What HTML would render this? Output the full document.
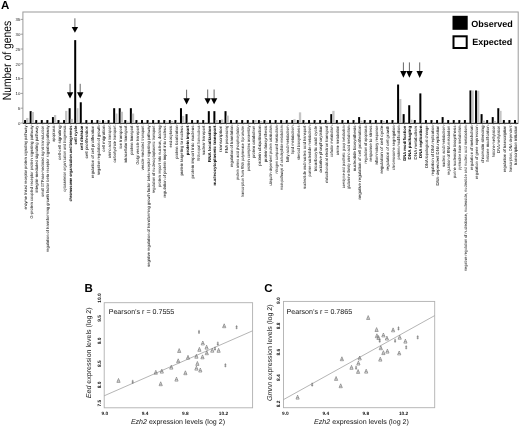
<!DOCTYPE html>
<html><head><meta charset="utf-8"><title>Figure</title>
<style>
html,body{margin:0;padding:0;background:#fff;}
body{width:520px;height:427px;overflow:hidden;}
svg{display:block;font-family:"Liberation Sans",sans-serif;filter:grayscale(1);text-rendering:geometricPrecision;}
</style></head>
<body>
<svg width="520" height="427" viewBox="0 0 520 427">
<rect width="520" height="427" fill="#fff"/>
<g id="chartA">
<rect x="22.9" y="12" width="495.3" height="111" fill="none" stroke="#9a9a9a" stroke-width="1"/>
<line x1="20.6" y1="123" x2="22.9" y2="123" stroke="#888" stroke-width="0.8"/>
<text x="20.3" y="124.7" font-size="4.3" text-anchor="end" fill="#222">0</text>
<line x1="20.6" y1="108.2" x2="22.9" y2="108.2" stroke="#888" stroke-width="0.8"/>
<text x="20.3" y="109.9" font-size="4.3" text-anchor="end" fill="#222">5</text>
<line x1="20.6" y1="93.4" x2="22.9" y2="93.4" stroke="#888" stroke-width="0.8"/>
<text x="20.3" y="95.1" font-size="4.3" text-anchor="end" fill="#222">10</text>
<line x1="20.6" y1="78.6" x2="22.9" y2="78.6" stroke="#888" stroke-width="0.8"/>
<text x="20.3" y="80.3" font-size="4.3" text-anchor="end" fill="#222">15</text>
<line x1="20.6" y1="63.8" x2="22.9" y2="63.8" stroke="#888" stroke-width="0.8"/>
<text x="20.3" y="65.5" font-size="4.3" text-anchor="end" fill="#222">20</text>
<line x1="20.6" y1="49" x2="22.9" y2="49" stroke="#888" stroke-width="0.8"/>
<text x="20.3" y="50.7" font-size="4.3" text-anchor="end" fill="#222">25</text>
<line x1="20.6" y1="34.2" x2="22.9" y2="34.2" stroke="#888" stroke-width="0.8"/>
<text x="20.3" y="35.9" font-size="4.3" text-anchor="end" fill="#222">30</text>
<line x1="20.6" y1="19.4" x2="22.9" y2="19.4" stroke="#888" stroke-width="0.8"/>
<text x="20.3" y="21.1" font-size="4.3" text-anchor="end" fill="#222">35</text>
<rect x="24.1" y="120.04" width="2.0" height="2.96" fill="#000"/>
<rect x="26.1" y="117.97" width="2.3" height="5.03" fill="#c4c4c4"/>
<rect x="29.67" y="111.16" width="2.0" height="11.84" fill="#000"/>
<rect x="31.67" y="112.05" width="2.3" height="10.95" fill="#c4c4c4"/>
<rect x="35.23" y="120.04" width="2.0" height="2.96" fill="#000"/>
<rect x="37.23" y="122.11" width="2.3" height="0.89" fill="#c4c4c4"/>
<rect x="40.8" y="120.04" width="2.0" height="2.96" fill="#000"/>
<rect x="42.8" y="122.41" width="2.3" height="0.59" fill="#c4c4c4"/>
<rect x="46.37" y="120.04" width="2.0" height="2.96" fill="#000"/>
<rect x="48.37" y="122.41" width="2.3" height="0.59" fill="#c4c4c4"/>
<rect x="51.94" y="117.08" width="2.0" height="5.92" fill="#000"/>
<rect x="53.94" y="115.01" width="2.3" height="7.99" fill="#c4c4c4"/>
<rect x="57.5" y="120.04" width="2.0" height="2.96" fill="#000"/>
<rect x="59.5" y="122.11" width="2.3" height="0.89" fill="#c4c4c4"/>
<rect x="63.07" y="120.04" width="2.0" height="2.96" fill="#000"/>
<rect x="65.07" y="110.86" width="2.3" height="12.14" fill="#c4c4c4"/>
<rect x="68.64" y="108.2" width="2.0" height="14.8" fill="#000"/>
<rect x="70.64" y="118.86" width="2.3" height="4.14" fill="#c4c4c4"/>
<rect x="74.2" y="40.12" width="2.0" height="82.88" fill="#000"/>
<rect x="76.2" y="108.2" width="2.3" height="14.8" fill="#c4c4c4"/>
<rect x="79.77" y="102.28" width="2.0" height="20.72" fill="#000"/>
<rect x="81.77" y="122.11" width="2.3" height="0.89" fill="#c4c4c4"/>
<rect x="85.34" y="120.04" width="2.0" height="2.96" fill="#000"/>
<rect x="87.34" y="122.41" width="2.3" height="0.59" fill="#c4c4c4"/>
<rect x="90.9" y="120.04" width="2.0" height="2.96" fill="#000"/>
<rect x="92.9" y="122.41" width="2.3" height="0.59" fill="#c4c4c4"/>
<rect x="96.47" y="120.04" width="2.0" height="2.96" fill="#000"/>
<rect x="98.47" y="120.63" width="2.3" height="2.37" fill="#c4c4c4"/>
<rect x="102.04" y="120.04" width="2.0" height="2.96" fill="#000"/>
<rect x="104.04" y="121.52" width="2.3" height="1.48" fill="#c4c4c4"/>
<rect x="107.6" y="120.04" width="2.0" height="2.96" fill="#000"/>
<rect x="109.6" y="122.11" width="2.3" height="0.89" fill="#c4c4c4"/>
<rect x="113.17" y="108.2" width="2.0" height="14.8" fill="#000"/>
<rect x="115.17" y="113.53" width="2.3" height="9.47" fill="#c4c4c4"/>
<rect x="118.74" y="108.2" width="2.0" height="14.8" fill="#000"/>
<rect x="120.74" y="111.75" width="2.3" height="11.25" fill="#c4c4c4"/>
<rect x="124.31" y="120.04" width="2.0" height="2.96" fill="#000"/>
<rect x="126.31" y="121.52" width="2.3" height="1.48" fill="#c4c4c4"/>
<rect x="129.87" y="108.2" width="2.0" height="14.8" fill="#000"/>
<rect x="131.87" y="113.53" width="2.3" height="9.47" fill="#c4c4c4"/>
<rect x="135.44" y="120.04" width="2.0" height="2.96" fill="#000"/>
<rect x="137.44" y="122.11" width="2.3" height="0.89" fill="#c4c4c4"/>
<rect x="141.01" y="120.04" width="2.0" height="2.96" fill="#000"/>
<rect x="143.01" y="122.11" width="2.3" height="0.89" fill="#c4c4c4"/>
<rect x="146.57" y="120.04" width="2.0" height="2.96" fill="#000"/>
<rect x="148.57" y="122.11" width="2.3" height="0.89" fill="#c4c4c4"/>
<rect x="152.14" y="120.04" width="2.0" height="2.96" fill="#000"/>
<rect x="154.14" y="122.11" width="2.3" height="0.89" fill="#c4c4c4"/>
<rect x="157.71" y="120.04" width="2.0" height="2.96" fill="#000"/>
<rect x="159.71" y="122.11" width="2.3" height="0.89" fill="#c4c4c4"/>
<rect x="163.28" y="120.04" width="2.0" height="2.96" fill="#000"/>
<rect x="165.28" y="121.52" width="2.3" height="1.48" fill="#c4c4c4"/>
<rect x="168.84" y="120.04" width="2.0" height="2.96" fill="#000"/>
<rect x="170.84" y="120.93" width="2.3" height="2.07" fill="#c4c4c4"/>
<rect x="174.41" y="120.04" width="2.0" height="2.96" fill="#000"/>
<rect x="176.41" y="122.11" width="2.3" height="0.89" fill="#c4c4c4"/>
<rect x="179.98" y="108.2" width="2.0" height="14.8" fill="#000"/>
<rect x="181.98" y="115.9" width="2.3" height="7.1" fill="#c4c4c4"/>
<rect x="185.54" y="114.12" width="2.0" height="8.88" fill="#000"/>
<rect x="187.54" y="122.11" width="2.3" height="0.89" fill="#c4c4c4"/>
<rect x="191.11" y="120.04" width="2.0" height="2.96" fill="#000"/>
<rect x="193.11" y="122.11" width="2.3" height="0.89" fill="#c4c4c4"/>
<rect x="196.68" y="120.04" width="2.0" height="2.96" fill="#000"/>
<rect x="198.68" y="122.11" width="2.3" height="0.89" fill="#c4c4c4"/>
<rect x="202.24" y="120.04" width="2.0" height="2.96" fill="#000"/>
<rect x="204.24" y="122.11" width="2.3" height="0.89" fill="#c4c4c4"/>
<rect x="207.81" y="111.16" width="2.0" height="11.84" fill="#000"/>
<rect x="209.81" y="122.11" width="2.3" height="0.89" fill="#c4c4c4"/>
<rect x="213.38" y="111.16" width="2.0" height="11.84" fill="#000"/>
<rect x="215.38" y="120.04" width="2.3" height="2.96" fill="#c4c4c4"/>
<rect x="218.94" y="120.04" width="2.0" height="2.96" fill="#000"/>
<rect x="220.94" y="119.45" width="2.3" height="3.55" fill="#c4c4c4"/>
<rect x="224.51" y="111.16" width="2.0" height="11.84" fill="#000"/>
<rect x="226.51" y="115.6" width="2.3" height="7.4" fill="#c4c4c4"/>
<rect x="230.08" y="120.04" width="2.0" height="2.96" fill="#000"/>
<rect x="232.08" y="122.11" width="2.3" height="0.89" fill="#c4c4c4"/>
<rect x="235.65" y="120.04" width="2.0" height="2.96" fill="#000"/>
<rect x="237.65" y="122.11" width="2.3" height="0.89" fill="#c4c4c4"/>
<rect x="241.21" y="120.04" width="2.0" height="2.96" fill="#000"/>
<rect x="243.21" y="122.11" width="2.3" height="0.89" fill="#c4c4c4"/>
<rect x="246.78" y="120.04" width="2.0" height="2.96" fill="#000"/>
<rect x="248.78" y="122.11" width="2.3" height="0.89" fill="#c4c4c4"/>
<rect x="252.35" y="120.04" width="2.0" height="2.96" fill="#000"/>
<rect x="254.35" y="120.04" width="2.3" height="2.96" fill="#c4c4c4"/>
<rect x="257.91" y="120.04" width="2.0" height="2.96" fill="#000"/>
<rect x="259.91" y="120.93" width="2.3" height="2.07" fill="#c4c4c4"/>
<rect x="263.48" y="120.04" width="2.0" height="2.96" fill="#000"/>
<rect x="265.48" y="121.52" width="2.3" height="1.48" fill="#c4c4c4"/>
<rect x="269.05" y="120.04" width="2.0" height="2.96" fill="#000"/>
<rect x="271.05" y="122.11" width="2.3" height="0.89" fill="#c4c4c4"/>
<rect x="274.62" y="120.04" width="2.0" height="2.96" fill="#000"/>
<rect x="276.62" y="122.11" width="2.3" height="0.89" fill="#c4c4c4"/>
<rect x="280.18" y="120.04" width="2.0" height="2.96" fill="#000"/>
<rect x="282.18" y="121.52" width="2.3" height="1.48" fill="#c4c4c4"/>
<rect x="285.75" y="120.04" width="2.0" height="2.96" fill="#000"/>
<rect x="287.75" y="122.11" width="2.3" height="0.89" fill="#c4c4c4"/>
<rect x="291.32" y="120.04" width="2.0" height="2.96" fill="#000"/>
<rect x="293.32" y="119.15" width="2.3" height="3.85" fill="#c4c4c4"/>
<rect x="296.88" y="120.04" width="2.0" height="2.96" fill="#000"/>
<rect x="298.88" y="112.34" width="2.3" height="10.66" fill="#c4c4c4"/>
<rect x="302.45" y="120.04" width="2.0" height="2.96" fill="#000"/>
<rect x="304.45" y="122.11" width="2.3" height="0.89" fill="#c4c4c4"/>
<rect x="308.02" y="120.04" width="2.0" height="2.96" fill="#000"/>
<rect x="310.02" y="122.11" width="2.3" height="0.89" fill="#c4c4c4"/>
<rect x="313.58" y="120.04" width="2.0" height="2.96" fill="#000"/>
<rect x="315.58" y="122.11" width="2.3" height="0.89" fill="#c4c4c4"/>
<rect x="319.15" y="120.04" width="2.0" height="2.96" fill="#000"/>
<rect x="321.15" y="122.11" width="2.3" height="0.89" fill="#c4c4c4"/>
<rect x="324.72" y="120.04" width="2.0" height="2.96" fill="#000"/>
<rect x="326.72" y="121.52" width="2.3" height="1.48" fill="#c4c4c4"/>
<rect x="330.29" y="114.12" width="2.0" height="8.88" fill="#000"/>
<rect x="332.29" y="110.86" width="2.3" height="12.14" fill="#c4c4c4"/>
<rect x="335.85" y="120.04" width="2.0" height="2.96" fill="#000"/>
<rect x="337.85" y="122.11" width="2.3" height="0.89" fill="#c4c4c4"/>
<rect x="341.42" y="120.04" width="2.0" height="2.96" fill="#000"/>
<rect x="343.42" y="122.11" width="2.3" height="0.89" fill="#c4c4c4"/>
<rect x="346.99" y="120.04" width="2.0" height="2.96" fill="#000"/>
<rect x="348.99" y="122.11" width="2.3" height="0.89" fill="#c4c4c4"/>
<rect x="352.55" y="120.04" width="2.0" height="2.96" fill="#000"/>
<rect x="354.55" y="122.11" width="2.3" height="0.89" fill="#c4c4c4"/>
<rect x="358.12" y="117.08" width="2.0" height="5.92" fill="#000"/>
<rect x="360.12" y="120.63" width="2.3" height="2.37" fill="#c4c4c4"/>
<rect x="363.69" y="120.04" width="2.0" height="2.96" fill="#000"/>
<rect x="365.69" y="122.11" width="2.3" height="0.89" fill="#c4c4c4"/>
<rect x="369.25" y="120.04" width="2.0" height="2.96" fill="#000"/>
<rect x="371.25" y="122.11" width="2.3" height="0.89" fill="#c4c4c4"/>
<rect x="374.82" y="120.04" width="2.0" height="2.96" fill="#000"/>
<rect x="376.82" y="122.11" width="2.3" height="0.89" fill="#c4c4c4"/>
<rect x="380.39" y="120.04" width="2.0" height="2.96" fill="#000"/>
<rect x="382.39" y="120.93" width="2.3" height="2.07" fill="#c4c4c4"/>
<rect x="385.96" y="120.04" width="2.0" height="2.96" fill="#000"/>
<rect x="387.96" y="122.11" width="2.3" height="0.89" fill="#c4c4c4"/>
<rect x="391.52" y="120.04" width="2.0" height="2.96" fill="#000"/>
<rect x="393.52" y="122.11" width="2.3" height="0.89" fill="#c4c4c4"/>
<rect x="397.09" y="84.52" width="2.0" height="38.48" fill="#000"/>
<rect x="399.09" y="99.02" width="2.3" height="23.98" fill="#c4c4c4"/>
<rect x="402.66" y="114.12" width="2.0" height="8.88" fill="#000"/>
<rect x="404.66" y="122.11" width="2.3" height="0.89" fill="#c4c4c4"/>
<rect x="408.22" y="105.24" width="2.0" height="17.76" fill="#000"/>
<rect x="410.22" y="119.74" width="2.3" height="3.26" fill="#c4c4c4"/>
<rect x="413.79" y="120.04" width="2.0" height="2.96" fill="#000"/>
<rect x="415.79" y="122.11" width="2.3" height="0.89" fill="#c4c4c4"/>
<rect x="419.36" y="93.4" width="2.0" height="29.6" fill="#000"/>
<rect x="421.36" y="122.11" width="2.3" height="0.89" fill="#c4c4c4"/>
<rect x="424.92" y="120.04" width="2.0" height="2.96" fill="#000"/>
<rect x="426.92" y="122.11" width="2.3" height="0.89" fill="#c4c4c4"/>
<rect x="430.49" y="120.04" width="2.0" height="2.96" fill="#000"/>
<rect x="432.49" y="122.11" width="2.3" height="0.89" fill="#c4c4c4"/>
<rect x="436.06" y="120.04" width="2.0" height="2.96" fill="#000"/>
<rect x="438.06" y="122.11" width="2.3" height="0.89" fill="#c4c4c4"/>
<rect x="441.63" y="117.08" width="2.0" height="5.92" fill="#000"/>
<rect x="443.63" y="122.11" width="2.3" height="0.89" fill="#c4c4c4"/>
<rect x="447.19" y="120.04" width="2.0" height="2.96" fill="#000"/>
<rect x="449.19" y="122.11" width="2.3" height="0.89" fill="#c4c4c4"/>
<rect x="452.76" y="120.04" width="2.0" height="2.96" fill="#000"/>
<rect x="454.76" y="122.11" width="2.3" height="0.89" fill="#c4c4c4"/>
<rect x="458.33" y="120.04" width="2.0" height="2.96" fill="#000"/>
<rect x="460.33" y="122.11" width="2.3" height="0.89" fill="#c4c4c4"/>
<rect x="463.89" y="120.04" width="2.0" height="2.96" fill="#000"/>
<rect x="465.89" y="122.11" width="2.3" height="0.89" fill="#c4c4c4"/>
<rect x="469.46" y="90.44" width="2.0" height="32.56" fill="#000"/>
<rect x="471.46" y="90.44" width="2.3" height="32.56" fill="#c4c4c4"/>
<rect x="475.03" y="90.44" width="2.0" height="32.56" fill="#000"/>
<rect x="477.03" y="90.74" width="2.3" height="32.26" fill="#c4c4c4"/>
<rect x="480.59" y="114.12" width="2.0" height="8.88" fill="#000"/>
<rect x="482.59" y="120.63" width="2.3" height="2.37" fill="#c4c4c4"/>
<rect x="486.16" y="120.04" width="2.0" height="2.96" fill="#000"/>
<rect x="488.16" y="122.11" width="2.3" height="0.89" fill="#c4c4c4"/>
<rect x="491.73" y="117.08" width="2.0" height="5.92" fill="#000"/>
<rect x="493.73" y="120.93" width="2.3" height="2.07" fill="#c4c4c4"/>
<rect x="497.3" y="108.2" width="2.0" height="14.8" fill="#000"/>
<rect x="499.3" y="110.86" width="2.3" height="12.14" fill="#c4c4c4"/>
<rect x="502.86" y="120.04" width="2.0" height="2.96" fill="#000"/>
<rect x="504.86" y="122.11" width="2.3" height="0.89" fill="#c4c4c4"/>
<rect x="508.43" y="120.04" width="2.0" height="2.96" fill="#000"/>
<rect x="510.43" y="122.11" width="2.3" height="0.89" fill="#c4c4c4"/>
<rect x="514" y="120.04" width="2.0" height="2.96" fill="#000"/>
<rect x="516" y="122.11" width="2.3" height="0.89" fill="#c4c4c4"/>
<line x1="22.9" y1="123.5" x2="518.2" y2="123.5" stroke="#222" stroke-width="0.8"/>
<line x1="26.1" y1="123.7" x2="26.1" y2="124.8" stroke="#777" stroke-width="0.5"/>
<line x1="31.67" y1="123.7" x2="31.67" y2="124.8" stroke="#777" stroke-width="0.5"/>
<line x1="37.23" y1="123.7" x2="37.23" y2="124.8" stroke="#777" stroke-width="0.5"/>
<line x1="42.8" y1="123.7" x2="42.8" y2="124.8" stroke="#777" stroke-width="0.5"/>
<line x1="48.37" y1="123.7" x2="48.37" y2="124.8" stroke="#777" stroke-width="0.5"/>
<line x1="53.94" y1="123.7" x2="53.94" y2="124.8" stroke="#777" stroke-width="0.5"/>
<line x1="59.5" y1="123.7" x2="59.5" y2="124.8" stroke="#777" stroke-width="0.5"/>
<line x1="65.07" y1="123.7" x2="65.07" y2="124.8" stroke="#777" stroke-width="0.5"/>
<line x1="70.64" y1="123.7" x2="70.64" y2="124.8" stroke="#777" stroke-width="0.5"/>
<line x1="76.2" y1="123.7" x2="76.2" y2="124.8" stroke="#777" stroke-width="0.5"/>
<line x1="81.77" y1="123.7" x2="81.77" y2="124.8" stroke="#777" stroke-width="0.5"/>
<line x1="87.34" y1="123.7" x2="87.34" y2="124.8" stroke="#777" stroke-width="0.5"/>
<line x1="92.9" y1="123.7" x2="92.9" y2="124.8" stroke="#777" stroke-width="0.5"/>
<line x1="98.47" y1="123.7" x2="98.47" y2="124.8" stroke="#777" stroke-width="0.5"/>
<line x1="104.04" y1="123.7" x2="104.04" y2="124.8" stroke="#777" stroke-width="0.5"/>
<line x1="109.6" y1="123.7" x2="109.6" y2="124.8" stroke="#777" stroke-width="0.5"/>
<line x1="115.17" y1="123.7" x2="115.17" y2="124.8" stroke="#777" stroke-width="0.5"/>
<line x1="120.74" y1="123.7" x2="120.74" y2="124.8" stroke="#777" stroke-width="0.5"/>
<line x1="126.31" y1="123.7" x2="126.31" y2="124.8" stroke="#777" stroke-width="0.5"/>
<line x1="131.87" y1="123.7" x2="131.87" y2="124.8" stroke="#777" stroke-width="0.5"/>
<line x1="137.44" y1="123.7" x2="137.44" y2="124.8" stroke="#777" stroke-width="0.5"/>
<line x1="143.01" y1="123.7" x2="143.01" y2="124.8" stroke="#777" stroke-width="0.5"/>
<line x1="148.57" y1="123.7" x2="148.57" y2="124.8" stroke="#777" stroke-width="0.5"/>
<line x1="154.14" y1="123.7" x2="154.14" y2="124.8" stroke="#777" stroke-width="0.5"/>
<line x1="159.71" y1="123.7" x2="159.71" y2="124.8" stroke="#777" stroke-width="0.5"/>
<line x1="165.28" y1="123.7" x2="165.28" y2="124.8" stroke="#777" stroke-width="0.5"/>
<line x1="170.84" y1="123.7" x2="170.84" y2="124.8" stroke="#777" stroke-width="0.5"/>
<line x1="176.41" y1="123.7" x2="176.41" y2="124.8" stroke="#777" stroke-width="0.5"/>
<line x1="181.98" y1="123.7" x2="181.98" y2="124.8" stroke="#777" stroke-width="0.5"/>
<line x1="187.54" y1="123.7" x2="187.54" y2="124.8" stroke="#777" stroke-width="0.5"/>
<line x1="193.11" y1="123.7" x2="193.11" y2="124.8" stroke="#777" stroke-width="0.5"/>
<line x1="198.68" y1="123.7" x2="198.68" y2="124.8" stroke="#777" stroke-width="0.5"/>
<line x1="204.24" y1="123.7" x2="204.24" y2="124.8" stroke="#777" stroke-width="0.5"/>
<line x1="209.81" y1="123.7" x2="209.81" y2="124.8" stroke="#777" stroke-width="0.5"/>
<line x1="215.38" y1="123.7" x2="215.38" y2="124.8" stroke="#777" stroke-width="0.5"/>
<line x1="220.94" y1="123.7" x2="220.94" y2="124.8" stroke="#777" stroke-width="0.5"/>
<line x1="226.51" y1="123.7" x2="226.51" y2="124.8" stroke="#777" stroke-width="0.5"/>
<line x1="232.08" y1="123.7" x2="232.08" y2="124.8" stroke="#777" stroke-width="0.5"/>
<line x1="237.65" y1="123.7" x2="237.65" y2="124.8" stroke="#777" stroke-width="0.5"/>
<line x1="243.21" y1="123.7" x2="243.21" y2="124.8" stroke="#777" stroke-width="0.5"/>
<line x1="248.78" y1="123.7" x2="248.78" y2="124.8" stroke="#777" stroke-width="0.5"/>
<line x1="254.35" y1="123.7" x2="254.35" y2="124.8" stroke="#777" stroke-width="0.5"/>
<line x1="259.91" y1="123.7" x2="259.91" y2="124.8" stroke="#777" stroke-width="0.5"/>
<line x1="265.48" y1="123.7" x2="265.48" y2="124.8" stroke="#777" stroke-width="0.5"/>
<line x1="271.05" y1="123.7" x2="271.05" y2="124.8" stroke="#777" stroke-width="0.5"/>
<line x1="276.62" y1="123.7" x2="276.62" y2="124.8" stroke="#777" stroke-width="0.5"/>
<line x1="282.18" y1="123.7" x2="282.18" y2="124.8" stroke="#777" stroke-width="0.5"/>
<line x1="287.75" y1="123.7" x2="287.75" y2="124.8" stroke="#777" stroke-width="0.5"/>
<line x1="293.32" y1="123.7" x2="293.32" y2="124.8" stroke="#777" stroke-width="0.5"/>
<line x1="298.88" y1="123.7" x2="298.88" y2="124.8" stroke="#777" stroke-width="0.5"/>
<line x1="304.45" y1="123.7" x2="304.45" y2="124.8" stroke="#777" stroke-width="0.5"/>
<line x1="310.02" y1="123.7" x2="310.02" y2="124.8" stroke="#777" stroke-width="0.5"/>
<line x1="315.58" y1="123.7" x2="315.58" y2="124.8" stroke="#777" stroke-width="0.5"/>
<line x1="321.15" y1="123.7" x2="321.15" y2="124.8" stroke="#777" stroke-width="0.5"/>
<line x1="326.72" y1="123.7" x2="326.72" y2="124.8" stroke="#777" stroke-width="0.5"/>
<line x1="332.29" y1="123.7" x2="332.29" y2="124.8" stroke="#777" stroke-width="0.5"/>
<line x1="337.85" y1="123.7" x2="337.85" y2="124.8" stroke="#777" stroke-width="0.5"/>
<line x1="343.42" y1="123.7" x2="343.42" y2="124.8" stroke="#777" stroke-width="0.5"/>
<line x1="348.99" y1="123.7" x2="348.99" y2="124.8" stroke="#777" stroke-width="0.5"/>
<line x1="354.55" y1="123.7" x2="354.55" y2="124.8" stroke="#777" stroke-width="0.5"/>
<line x1="360.12" y1="123.7" x2="360.12" y2="124.8" stroke="#777" stroke-width="0.5"/>
<line x1="365.69" y1="123.7" x2="365.69" y2="124.8" stroke="#777" stroke-width="0.5"/>
<line x1="371.25" y1="123.7" x2="371.25" y2="124.8" stroke="#777" stroke-width="0.5"/>
<line x1="376.82" y1="123.7" x2="376.82" y2="124.8" stroke="#777" stroke-width="0.5"/>
<line x1="382.39" y1="123.7" x2="382.39" y2="124.8" stroke="#777" stroke-width="0.5"/>
<line x1="387.96" y1="123.7" x2="387.96" y2="124.8" stroke="#777" stroke-width="0.5"/>
<line x1="393.52" y1="123.7" x2="393.52" y2="124.8" stroke="#777" stroke-width="0.5"/>
<line x1="399.09" y1="123.7" x2="399.09" y2="124.8" stroke="#777" stroke-width="0.5"/>
<line x1="404.66" y1="123.7" x2="404.66" y2="124.8" stroke="#777" stroke-width="0.5"/>
<line x1="410.22" y1="123.7" x2="410.22" y2="124.8" stroke="#777" stroke-width="0.5"/>
<line x1="415.79" y1="123.7" x2="415.79" y2="124.8" stroke="#777" stroke-width="0.5"/>
<line x1="421.36" y1="123.7" x2="421.36" y2="124.8" stroke="#777" stroke-width="0.5"/>
<line x1="426.92" y1="123.7" x2="426.92" y2="124.8" stroke="#777" stroke-width="0.5"/>
<line x1="432.49" y1="123.7" x2="432.49" y2="124.8" stroke="#777" stroke-width="0.5"/>
<line x1="438.06" y1="123.7" x2="438.06" y2="124.8" stroke="#777" stroke-width="0.5"/>
<line x1="443.63" y1="123.7" x2="443.63" y2="124.8" stroke="#777" stroke-width="0.5"/>
<line x1="449.19" y1="123.7" x2="449.19" y2="124.8" stroke="#777" stroke-width="0.5"/>
<line x1="454.76" y1="123.7" x2="454.76" y2="124.8" stroke="#777" stroke-width="0.5"/>
<line x1="460.33" y1="123.7" x2="460.33" y2="124.8" stroke="#777" stroke-width="0.5"/>
<line x1="465.89" y1="123.7" x2="465.89" y2="124.8" stroke="#777" stroke-width="0.5"/>
<line x1="471.46" y1="123.7" x2="471.46" y2="124.8" stroke="#777" stroke-width="0.5"/>
<line x1="477.03" y1="123.7" x2="477.03" y2="124.8" stroke="#777" stroke-width="0.5"/>
<line x1="482.59" y1="123.7" x2="482.59" y2="124.8" stroke="#777" stroke-width="0.5"/>
<line x1="488.16" y1="123.7" x2="488.16" y2="124.8" stroke="#777" stroke-width="0.5"/>
<line x1="493.73" y1="123.7" x2="493.73" y2="124.8" stroke="#777" stroke-width="0.5"/>
<line x1="499.3" y1="123.7" x2="499.3" y2="124.8" stroke="#777" stroke-width="0.5"/>
<line x1="504.86" y1="123.7" x2="504.86" y2="124.8" stroke="#777" stroke-width="0.5"/>
<line x1="510.43" y1="123.7" x2="510.43" y2="124.8" stroke="#777" stroke-width="0.5"/>
<line x1="516" y1="123.7" x2="516" y2="124.8" stroke="#777" stroke-width="0.5"/>
<text transform="translate(27.2,125.6) rotate(-90)" x="0" y="0" font-size="4.2" text-anchor="end" textLength="84" lengthAdjust="spacingAndGlyphs" fill="#000">enzyme linked receptor protein signaling pathway</text>
<text transform="translate(32.77,125.6) rotate(-90)" x="0" y="0" font-size="4.2" text-anchor="end" textLength="92.9" lengthAdjust="spacingAndGlyphs" fill="#000">G-protein coupled receptor protein signaling pathway</text>
<text transform="translate(38.33,125.6) rotate(-90)" x="0" y="0" font-size="4.2" text-anchor="end" textLength="66.9" lengthAdjust="spacingAndGlyphs" fill="#000">integrin-mediated signaling pathway</text>
<text transform="translate(43.9,125.6) rotate(-90)" x="0" y="0" font-size="4.2" text-anchor="end" textLength="71.1" lengthAdjust="spacingAndGlyphs" fill="#000">small GTPase mediated signal transduction</text>
<text transform="translate(49.47,125.6) rotate(-90)" x="0" y="0" font-size="4.2" text-anchor="end" textLength="126.4" lengthAdjust="spacingAndGlyphs" fill="#000">regulation of transforming growth factor beta receptor signaling pathway</text>
<text transform="translate(55.04,125.6) rotate(-90)" x="0" y="0" font-size="4.2" text-anchor="end" textLength="16.2" lengthAdjust="spacingAndGlyphs" fill="#000">apoptosis</text>
<text transform="translate(60.6,125.6) rotate(-90)" x="0" y="0" font-size="4.2" text-anchor="end" textLength="34.4" lengthAdjust="spacingAndGlyphs" fill="#000">cell-cell signaling</text>
<text transform="translate(66.17,125.6) rotate(-90)" x="0" y="0" font-size="4.2" text-anchor="end" textLength="66.2" lengthAdjust="spacingAndGlyphs" fill="#000">cytoskeleton organization and biogenesis</text>
<text transform="translate(71.74,125.6) rotate(-90)" x="0" y="0" font-size="4.2" text-anchor="end" textLength="76" lengthAdjust="spacingAndGlyphs" font-weight="bold" fill="#000">chromosome organization and biogenesis</text>
<text transform="translate(77.3,125.6) rotate(-90)" x="0" y="0" font-size="4.2" text-anchor="end" textLength="18.8" lengthAdjust="spacingAndGlyphs" font-weight="bold" fill="#000">cell cycle</text>
<text transform="translate(82.87,125.6) rotate(-90)" x="0" y="0" font-size="4.2" text-anchor="end" textLength="24.7" lengthAdjust="spacingAndGlyphs" font-weight="bold" fill="#000">cell division</text>
<text transform="translate(88.44,125.6) rotate(-90)" x="0" y="0" font-size="4.2" text-anchor="end" textLength="32.8" lengthAdjust="spacingAndGlyphs" fill="#000">cell proliferation</text>
<text transform="translate(94,125.6) rotate(-90)" x="0" y="0" font-size="4.2" text-anchor="end" textLength="52.4" lengthAdjust="spacingAndGlyphs" fill="#000">regulation of cell proliferation</text>
<text transform="translate(99.57,125.6) rotate(-90)" x="0" y="0" font-size="4.2" text-anchor="end" textLength="49.6" lengthAdjust="spacingAndGlyphs" fill="#000">negative regulation of growth</text>
<text transform="translate(105.14,125.6) rotate(-90)" x="0" y="0" font-size="4.2" text-anchor="end" textLength="26.2" lengthAdjust="spacingAndGlyphs" fill="#000">cell migration</text>
<text transform="translate(110.7,125.6) rotate(-90)" x="0" y="0" font-size="4.2" text-anchor="end" textLength="32.7" lengthAdjust="spacingAndGlyphs" fill="#000">amino acid transport</text>
<text transform="translate(116.27,125.6) rotate(-90)" x="0" y="0" font-size="4.2" text-anchor="end" textLength="36.9" lengthAdjust="spacingAndGlyphs" fill="#000">carbohydrate transport</text>
<text transform="translate(121.84,125.6) rotate(-90)" x="0" y="0" font-size="4.2" text-anchor="end" textLength="22.8" lengthAdjust="spacingAndGlyphs" fill="#000">ion transport</text>
<text transform="translate(127.41,125.6) rotate(-90)" x="0" y="0" font-size="4.2" text-anchor="end" textLength="37.6" lengthAdjust="spacingAndGlyphs" fill="#000">intracellular transport</text>
<text transform="translate(132.97,125.6) rotate(-90)" x="0" y="0" font-size="4.2" text-anchor="end" textLength="29.1" lengthAdjust="spacingAndGlyphs" fill="#000">protein transport</text>
<text transform="translate(138.54,125.6) rotate(-90)" x="0" y="0" font-size="4.2" text-anchor="end" textLength="39" lengthAdjust="spacingAndGlyphs" fill="#000">Golgi vesicle transport</text>
<text transform="translate(144.11,125.6) rotate(-90)" x="0" y="0" font-size="4.2" text-anchor="end" textLength="44.6" lengthAdjust="spacingAndGlyphs" fill="#000">vesicle-mediated transport</text>
<text transform="translate(149.67,125.6) rotate(-90)" x="0" y="0" font-size="4.2" text-anchor="end" textLength="141.4" lengthAdjust="spacingAndGlyphs" fill="#000">negative regulation of transforming growth factor beta receptor signaling pathway</text>
<text transform="translate(155.24,125.6) rotate(-90)" x="0" y="0" font-size="4.2" text-anchor="end" textLength="67.7" lengthAdjust="spacingAndGlyphs" fill="#000">regulation of nucleocytoplasmic transport</text>
<text transform="translate(160.81,125.6) rotate(-90)" x="0" y="0" font-size="4.2" text-anchor="end" textLength="61.4" lengthAdjust="spacingAndGlyphs" fill="#000">protein import into nucleus, docking</text>
<text transform="translate(166.38,125.6) rotate(-90)" x="0" y="0" font-size="4.2" text-anchor="end" textLength="72" lengthAdjust="spacingAndGlyphs" fill="#000">regulation of protein import into nucleus</text>
<text transform="translate(171.94,125.6) rotate(-90)" x="0" y="0" font-size="4.2" text-anchor="end" textLength="21.9" lengthAdjust="spacingAndGlyphs" fill="#000">endocytosis</text>
<text transform="translate(177.51,125.6) rotate(-90)" x="0" y="0" font-size="4.2" text-anchor="end" textLength="33.1" lengthAdjust="spacingAndGlyphs" fill="#000">protein localization</text>
<text transform="translate(183.08,125.6) rotate(-90)" x="0" y="0" font-size="4.2" text-anchor="end" textLength="50" lengthAdjust="spacingAndGlyphs" fill="#000">protein targeting to nucleus</text>
<text transform="translate(188.64,125.6) rotate(-90)" x="0" y="0" font-size="4.2" text-anchor="end" textLength="29.6" lengthAdjust="spacingAndGlyphs" font-weight="bold" fill="#000">protein import</text>
<text transform="translate(194.21,125.6) rotate(-90)" x="0" y="0" font-size="4.2" text-anchor="end" textLength="52.8" lengthAdjust="spacingAndGlyphs" fill="#000">protein import into nucleus</text>
<text transform="translate(199.78,125.6) rotate(-90)" x="0" y="0" font-size="4.2" text-anchor="end" textLength="35.2" lengthAdjust="spacingAndGlyphs" fill="#000">RNA export from nucleus</text>
<text transform="translate(205.34,125.6) rotate(-90)" x="0" y="0" font-size="4.2" text-anchor="end" textLength="29.6" lengthAdjust="spacingAndGlyphs" fill="#000">nuclear transport</text>
<text transform="translate(210.91,125.6) rotate(-90)" x="0" y="0" font-size="4.2" text-anchor="end" textLength="36.6" lengthAdjust="spacingAndGlyphs" font-weight="bold" fill="#000">RNA localization</text>
<text transform="translate(216.48,125.6) rotate(-90)" x="0" y="0" font-size="4.2" text-anchor="end" textLength="59.9" lengthAdjust="spacingAndGlyphs" font-weight="bold" fill="#000">nucleocytoplasmic transport</text>
<text transform="translate(222.04,125.6) rotate(-90)" x="0" y="0" font-size="4.2" text-anchor="end" textLength="26.1" lengthAdjust="spacingAndGlyphs" fill="#000">transcription</text>
<text transform="translate(227.61,125.6) rotate(-90)" x="0" y="0" font-size="4.2" text-anchor="end" textLength="27.5" lengthAdjust="spacingAndGlyphs" fill="#000">RNA processing</text>
<text transform="translate(233.18,125.6) rotate(-90)" x="0" y="0" font-size="4.2" text-anchor="end" textLength="41.5" lengthAdjust="spacingAndGlyphs" fill="#000">regulation of translation</text>
<text transform="translate(238.75,125.6) rotate(-90)" x="0" y="0" font-size="4.2" text-anchor="end" textLength="54.4" lengthAdjust="spacingAndGlyphs" fill="#000">protein amino acid phosphorylation</text>
<text transform="translate(244.31,125.6) rotate(-90)" x="0" y="0" font-size="4.2" text-anchor="end" textLength="71.2" lengthAdjust="spacingAndGlyphs" fill="#000">transcription from RNA polymerase II promoter</text>
<text transform="translate(249.88,125.6) rotate(-90)" x="0" y="0" font-size="4.2" text-anchor="end" textLength="45.7" lengthAdjust="spacingAndGlyphs" fill="#000">protein complex assembly</text>
<text transform="translate(255.45,125.6) rotate(-90)" x="0" y="0" font-size="4.2" text-anchor="end" textLength="32.4" lengthAdjust="spacingAndGlyphs" fill="#000">protein catabolism</text>
<text transform="translate(261.01,125.6) rotate(-90)" x="0" y="0" font-size="4.2" text-anchor="end" textLength="40.1" lengthAdjust="spacingAndGlyphs" fill="#000">protein ubiquitination</text>
<text transform="translate(266.58,125.6) rotate(-90)" x="0" y="0" font-size="4.2" text-anchor="end" textLength="36.6" lengthAdjust="spacingAndGlyphs" fill="#000">protein biosynthesis</text>
<text transform="translate(272.15,125.6) rotate(-90)" x="0" y="0" font-size="4.2" text-anchor="end" textLength="59.9" lengthAdjust="spacingAndGlyphs" fill="#000">ubiquitin-dependent protein catabolism</text>
<text transform="translate(277.72,125.6) rotate(-90)" x="0" y="0" font-size="4.2" text-anchor="end" textLength="47.9" lengthAdjust="spacingAndGlyphs" fill="#000">nitrogen compound metabolism</text>
<text transform="translate(283.28,125.6) rotate(-90)" x="0" y="0" font-size="4.2" text-anchor="end" textLength="64.4" lengthAdjust="spacingAndGlyphs" fill="#000">main pathways of carbohydrate metabolism</text>
<text transform="translate(288.85,125.6) rotate(-90)" x="0" y="0" font-size="4.2" text-anchor="end" textLength="36.4" lengthAdjust="spacingAndGlyphs" fill="#000">fatty acid metabolism</text>
<text transform="translate(294.42,125.6) rotate(-90)" x="0" y="0" font-size="4.2" text-anchor="end" textLength="28.2" lengthAdjust="spacingAndGlyphs" fill="#000">lipid metabolism</text>
<text transform="translate(299.98,125.6) rotate(-90)" x="0" y="0" font-size="4.2" text-anchor="end" textLength="34.5" lengthAdjust="spacingAndGlyphs" fill="#000">steroid biosynthesis</text>
<text transform="translate(305.55,125.6) rotate(-90)" x="0" y="0" font-size="4.2" text-anchor="end" textLength="63.4" lengthAdjust="spacingAndGlyphs" fill="#000">nucleotide and nucleic acid transport</text>
<text transform="translate(311.12,125.6) rotate(-90)" x="0" y="0" font-size="4.2" text-anchor="end" textLength="50.9" lengthAdjust="spacingAndGlyphs" fill="#000">purine nucleotide metabolism</text>
<text transform="translate(316.68,125.6) rotate(-90)" x="0" y="0" font-size="4.2" text-anchor="end" textLength="45.7" lengthAdjust="spacingAndGlyphs" fill="#000">tricarboxylic acid cycle</text>
<text transform="translate(322.25,125.6) rotate(-90)" x="0" y="0" font-size="4.2" text-anchor="end" textLength="47.2" lengthAdjust="spacingAndGlyphs" fill="#000">oxidative phosphorylation</text>
<text transform="translate(327.82,125.6) rotate(-90)" x="0" y="0" font-size="4.2" text-anchor="end" textLength="57.1" lengthAdjust="spacingAndGlyphs" fill="#000">mitochondrial electron transport</text>
<text transform="translate(333.39,125.6) rotate(-90)" x="0" y="0" font-size="4.2" text-anchor="end" textLength="31.4" lengthAdjust="spacingAndGlyphs" fill="#000">cofactor metabolism</text>
<text transform="translate(338.95,125.6) rotate(-90)" x="0" y="0" font-size="4.2" text-anchor="end" textLength="29.6" lengthAdjust="spacingAndGlyphs" fill="#000">amine metabolism</text>
<text transform="translate(344.52,125.6) rotate(-90)" x="0" y="0" font-size="4.2" text-anchor="end" textLength="62.7" lengthAdjust="spacingAndGlyphs" fill="#000">coenzyme and prosthetic group metabolism</text>
<text transform="translate(350.09,125.6) rotate(-90)" x="0" y="0" font-size="4.2" text-anchor="end" textLength="63.4" lengthAdjust="spacingAndGlyphs" fill="#000">glutamine family amino acid metabolism</text>
<text transform="translate(355.65,125.6) rotate(-90)" x="0" y="0" font-size="4.2" text-anchor="end" textLength="45.7" lengthAdjust="spacingAndGlyphs" fill="#000">nucleotide biosynthesis</text>
<text transform="translate(361.22,125.6) rotate(-90)" x="0" y="0" font-size="4.2" text-anchor="end" textLength="74" lengthAdjust="spacingAndGlyphs" fill="#000">negative regulation of cell proliferation</text>
<text transform="translate(366.79,125.6) rotate(-90)" x="0" y="0" font-size="4.2" text-anchor="end" textLength="38" lengthAdjust="spacingAndGlyphs" fill="#000">regulation of apoptosis</text>
<text transform="translate(372.35,125.6) rotate(-90)" x="0" y="0" font-size="4.2" text-anchor="end" textLength="35.9" lengthAdjust="spacingAndGlyphs" fill="#000">response to stress</text>
<text transform="translate(377.92,125.6) rotate(-90)" x="0" y="0" font-size="4.2" text-anchor="end" textLength="39.4" lengthAdjust="spacingAndGlyphs" fill="#000">inflammatory response</text>
<text transform="translate(383.49,125.6) rotate(-90)" x="0" y="0" font-size="4.2" text-anchor="end" textLength="47.9" lengthAdjust="spacingAndGlyphs" fill="#000">regulation of cell cycle</text>
<text transform="translate(389.06,125.6) rotate(-90)" x="0" y="0" font-size="4.2" text-anchor="end" textLength="45" lengthAdjust="spacingAndGlyphs" fill="#000">regulation of cell growth</text>
<text transform="translate(394.62,125.6) rotate(-90)" x="0" y="0" font-size="4.2" text-anchor="end" textLength="44.4" lengthAdjust="spacingAndGlyphs" fill="#000">chromosome segregation</text>
<text transform="translate(400.19,125.6) rotate(-90)" x="0" y="0" font-size="4.2" text-anchor="end" textLength="33.8" lengthAdjust="spacingAndGlyphs" fill="#000">protein modification</text>
<text transform="translate(405.76,125.6) rotate(-90)" x="0" y="0" font-size="4.2" text-anchor="end" textLength="35.2" lengthAdjust="spacingAndGlyphs" font-weight="bold" fill="#000">DNA modification</text>
<text transform="translate(411.32,125.6) rotate(-90)" x="0" y="0" font-size="4.2" text-anchor="end" textLength="33.8" lengthAdjust="spacingAndGlyphs" font-weight="bold" fill="#000">DNA packaging</text>
<text transform="translate(416.89,125.6) rotate(-90)" x="0" y="0" font-size="4.2" text-anchor="end" textLength="33.8" lengthAdjust="spacingAndGlyphs" fill="#000">DNA metabolism</text>
<text transform="translate(422.46,125.6) rotate(-90)" x="0" y="0" font-size="4.2" text-anchor="end" textLength="32.4" lengthAdjust="spacingAndGlyphs" font-weight="bold" fill="#000">DNA replication</text>
<text transform="translate(428.02,125.6) rotate(-90)" x="0" y="0" font-size="4.2" text-anchor="end" textLength="42.2" lengthAdjust="spacingAndGlyphs" fill="#000">DNA topological change</text>
<text transform="translate(433.59,125.6) rotate(-90)" x="0" y="0" font-size="4.2" text-anchor="end" textLength="50" lengthAdjust="spacingAndGlyphs" fill="#000">regulation of DNA replication</text>
<text transform="translate(439.16,125.6) rotate(-90)" x="0" y="0" font-size="4.2" text-anchor="end" textLength="59.9" lengthAdjust="spacingAndGlyphs" fill="#000">DNA-dependent DNA replication</text>
<text transform="translate(444.73,125.6) rotate(-90)" x="0" y="0" font-size="4.2" text-anchor="end" textLength="41.5" lengthAdjust="spacingAndGlyphs" fill="#000">nucleic acid metabolism</text>
<text transform="translate(450.29,125.6) rotate(-90)" x="0" y="0" font-size="4.2" text-anchor="end" textLength="49.3" lengthAdjust="spacingAndGlyphs" fill="#000">regulation of RNA metabolism</text>
<text transform="translate(455.86,125.6) rotate(-90)" x="0" y="0" font-size="4.2" text-anchor="end" textLength="52.4" lengthAdjust="spacingAndGlyphs" fill="#000">purine nucleoside biosynthesis</text>
<text transform="translate(461.43,125.6) rotate(-90)" x="0" y="0" font-size="4.2" text-anchor="end" textLength="44.4" lengthAdjust="spacingAndGlyphs" fill="#000">pyrimidine base metabolism</text>
<text transform="translate(466.99,125.6) rotate(-90)" x="0" y="0" font-size="4.2" text-anchor="end" textLength="145.4" lengthAdjust="spacingAndGlyphs" fill="#000">negative regulation of nucleobase, nucleoside, nucleotide and nucleic acid metabolism</text>
<text transform="translate(472.56,125.6) rotate(-90)" x="0" y="0" font-size="4.2" text-anchor="end" textLength="44.4" lengthAdjust="spacingAndGlyphs" fill="#000">regulation of metabolism</text>
<text transform="translate(478.13,125.6) rotate(-90)" x="0" y="0" font-size="4.2" text-anchor="end" textLength="53.4" lengthAdjust="spacingAndGlyphs" fill="#000">regulation of gene expression</text>
<text transform="translate(483.69,125.6) rotate(-90)" x="0" y="0" font-size="4.2" text-anchor="end" textLength="37.4" lengthAdjust="spacingAndGlyphs" fill="#000">chromatin silencing</text>
<text transform="translate(489.26,125.6) rotate(-90)" x="0" y="0" font-size="4.2" text-anchor="end" textLength="36" lengthAdjust="spacingAndGlyphs" fill="#000">histone modification</text>
<text transform="translate(494.83,125.6) rotate(-90)" x="0" y="0" font-size="4.2" text-anchor="end" textLength="31.7" lengthAdjust="spacingAndGlyphs" fill="#000">histone methylation</text>
<text transform="translate(500.4,125.6) rotate(-90)" x="0" y="0" font-size="4.2" text-anchor="end" textLength="27.5" lengthAdjust="spacingAndGlyphs" fill="#000">DNA methylation</text>
<text transform="translate(505.96,125.6) rotate(-90)" x="0" y="0" font-size="4.2" text-anchor="end" textLength="46.5" lengthAdjust="spacingAndGlyphs" fill="#000">regulation of transcription</text>
<text transform="translate(511.53,125.6) rotate(-90)" x="0" y="0" font-size="4.2" text-anchor="end" textLength="46.5" lengthAdjust="spacingAndGlyphs" fill="#000">transcription, DNA-dependent</text>
<text transform="translate(517.1,125.6) rotate(-90)" x="0" y="0" font-size="4.2" text-anchor="end" textLength="39.5" lengthAdjust="spacingAndGlyphs" fill="#000">transcription initiation</text>
</g>
<line x1="74.9" y1="18.3" x2="74.9" y2="27.4" stroke="#666" stroke-width="1.0"/>
<polygon points="71.7,26.9 78.1,26.9 74.9,32.8" fill="#000"/>
<line x1="70.05" y1="83.8" x2="70.05" y2="92.7" stroke="#666" stroke-width="1.0"/>
<polygon points="66.85,92.2 73.25,92.2 70.05,98.5" fill="#000"/>
<line x1="80.2" y1="83.8" x2="80.2" y2="92.7" stroke="#666" stroke-width="1.0"/>
<polygon points="77,92.2 83.4,92.2 80.2,98.5" fill="#000"/>
<line x1="186.6" y1="89.7" x2="186.6" y2="98.7" stroke="#666" stroke-width="1.0"/>
<polygon points="183.4,98.2 189.8,98.2 186.6,104.5" fill="#000"/>
<line x1="207.7" y1="89.5" x2="207.7" y2="98.7" stroke="#666" stroke-width="1.0"/>
<polygon points="204.5,98.2 210.9,98.2 207.7,104.3" fill="#000"/>
<line x1="214.1" y1="89.5" x2="214.1" y2="98.7" stroke="#666" stroke-width="1.0"/>
<polygon points="210.9,98.2 217.3,98.2 214.1,104.3" fill="#000"/>
<line x1="403.4" y1="62.4" x2="403.4" y2="71.5" stroke="#666" stroke-width="1.0"/>
<polygon points="400.2,71 406.6,71 403.4,77.8" fill="#000"/>
<line x1="409.4" y1="62.4" x2="409.4" y2="71.5" stroke="#666" stroke-width="1.0"/>
<polygon points="406.2,71 412.6,71 409.4,77.8" fill="#000"/>
<line x1="419.7" y1="62.4" x2="419.7" y2="71.5" stroke="#666" stroke-width="1.0"/>
<polygon points="416.5,71 422.9,71 419.7,78" fill="#000"/>
<rect x="452.5" y="15.8" width="15.2" height="14.0" fill="#000"/>
<rect x="453.5" y="36.3" width="13.2" height="11.7" fill="#fff" stroke="#000" stroke-width="2"/>
<text x="471.2" y="27.1" font-size="9" font-weight="bold">Observed</text>
<text x="472.2" y="45.4" font-size="9" font-weight="bold">Expected</text>
<text x="0.9" y="9" font-size="11.5" font-weight="bold">A</text>
<text transform="translate(11.2,100.3) rotate(-90)" font-size="12" textLength="79.4" lengthAdjust="spacingAndGlyphs">Number of genes</text>
<text x="84.4" y="291.8" font-size="11.5" font-weight="bold">B</text>
<rect x="104.2" y="302.7" width="148.4" height="105.1" fill="none" stroke="#b0b0b0" stroke-width="0.9"/>
<line x1="104.2" y1="395.8" x2="252.6" y2="330.8" stroke="#a2a2a2" stroke-width="0.8"/>
<text transform="translate(100.8,298.1) rotate(-90)" font-size="4.8" font-weight="bold" text-anchor="middle" fill="#111">10.0</text>
<text transform="translate(100.8,318.5) rotate(-90)" font-size="4.8" font-weight="bold" text-anchor="middle" fill="#111">9.5</text>
<text transform="translate(100.8,341) rotate(-90)" font-size="4.8" font-weight="bold" text-anchor="middle" fill="#111">9.0</text>
<text transform="translate(100.8,363.6) rotate(-90)" font-size="4.8" font-weight="bold" text-anchor="middle" fill="#111">8.5</text>
<text transform="translate(100.8,385) rotate(-90)" font-size="4.8" font-weight="bold" text-anchor="middle" fill="#111">8.0</text>
<text transform="translate(100.8,403.2) rotate(-90)" font-size="4.8" font-weight="bold" text-anchor="middle" fill="#111">7.5</text>
<text x="104.9" y="415.1" font-size="4.8" font-weight="bold" text-anchor="middle" fill="#111">9.0</text>
<text x="145" y="415.1" font-size="4.8" font-weight="bold" text-anchor="middle" fill="#111">9.4</text>
<text x="185.3" y="415.1" font-size="4.8" font-weight="bold" text-anchor="middle" fill="#111">9.8</text>
<text x="223.5" y="415.1" font-size="4.8" font-weight="bold" text-anchor="middle" fill="#111">10.2</text>
<text x="108.7" y="313.6" font-size="7.1" fill="#111">Pearson’s r = 0.7555</text>
<text transform="translate(91,398.2) rotate(-90)" font-size="7.0" textLength="90.8" lengthAdjust="spacingAndGlyphs" fill="#111"><tspan font-style="italic">Eed</tspan> expression levels (log 2)</text>
<text x="130.9" y="423.6" font-size="7.0" textLength="94.1" lengthAdjust="spacingAndGlyphs" fill="#111"><tspan font-style="italic">Ezh2</tspan> expression levels (log 2)</text>
<path d="M222.6,327.7 L224.2,323.8 L225.8,327.7 Z M223.2,326.3 H225.2" fill="none" stroke="#666" stroke-width="0.6"/>
<path d="M201.2,344.9 L202.8,341 L204.4,344.9 Z M201.8,343.5 H203.8" fill="none" stroke="#666" stroke-width="0.6"/>
<path d="M177.6,352.5 L179.2,348.6 L180.8,352.5 Z M178.2,351.1 H180.2" fill="none" stroke="#666" stroke-width="0.6"/>
<path d="M197.8,351.3 L199.4,347.4 L201,351.3 Z M198.4,349.9 H200.4" fill="none" stroke="#666" stroke-width="0.6"/>
<path d="M205,349.1 L206.6,345.2 L208.2,349.1 Z M205.6,347.7 H207.6" fill="none" stroke="#666" stroke-width="0.6"/>
<path d="M205.2,354.7 L206.8,350.8 L208.4,354.7 Z M205.8,353.3 H207.8" fill="none" stroke="#666" stroke-width="0.6"/>
<path d="M210.7,352.2 L212.3,348.3 L213.9,352.2 Z M211.3,350.8 H213.3" fill="none" stroke="#666" stroke-width="0.6"/>
<path d="M217,352.3 L218.6,348.4 L220.2,352.3 Z M217.6,350.9 H219.6" fill="none" stroke="#666" stroke-width="0.6"/>
<path d="M186.4,359.2 L188,355.3 L189.6,359.2 Z M187,357.8 H189" fill="none" stroke="#666" stroke-width="0.6"/>
<path d="M194.8,358.2 L196.4,354.3 L198,358.2 Z M195.4,356.8 H197.4" fill="none" stroke="#666" stroke-width="0.6"/>
<path d="M200.9,358.8 L202.5,354.9 L204.1,358.8 Z M201.5,357.4 H203.5" fill="none" stroke="#666" stroke-width="0.6"/>
<path d="M176.6,362.7 L178.2,358.8 L179.8,362.7 Z M177.2,361.3 H179.2" fill="none" stroke="#666" stroke-width="0.6"/>
<path d="M169.7,369.1 L171.3,365.2 L172.9,369.1 Z M170.3,367.7 H172.3" fill="none" stroke="#666" stroke-width="0.6"/>
<path d="M160.2,373.1 L161.8,369.2 L163.4,373.1 Z M160.8,371.7 H162.8" fill="none" stroke="#666" stroke-width="0.6"/>
<path d="M154.2,374.2 L155.8,370.3 L157.4,374.2 Z M154.8,372.8 H156.8" fill="none" stroke="#666" stroke-width="0.6"/>
<path d="M195.8,365.4 L197.4,361.5 L199,365.4 Z M196.4,364 H198.4" fill="none" stroke="#666" stroke-width="0.6"/>
<path d="M194.8,370.1 L196.4,366.2 L198,370.1 Z M195.4,368.7 H197.4" fill="none" stroke="#666" stroke-width="0.6"/>
<path d="M198.7,372 L200.3,368.1 L201.9,372 Z M199.3,370.6 H201.3" fill="none" stroke="#666" stroke-width="0.6"/>
<path d="M183.8,374.7 L185.4,370.8 L187,374.7 Z M184.4,373.3 H186.4" fill="none" stroke="#666" stroke-width="0.6"/>
<path d="M116.9,382.4 L118.5,378.5 L120.1,382.4 Z M117.5,381 H119.5" fill="none" stroke="#666" stroke-width="0.6"/>
<path d="M159.1,385.7 L160.7,381.8 L162.3,385.7 Z M159.7,384.3 H161.7" fill="none" stroke="#666" stroke-width="0.6"/>
<path d="M174.9,381.1 L176.5,377.2 L178.1,381.1 Z M175.5,379.7 H177.5" fill="none" stroke="#666" stroke-width="0.6"/>
<path d="M236.6,325.2 V329.2 M235.6,326.6 H237.6 M235.6,328.1 H237.6" fill="none" stroke="#666" stroke-width="0.6"/>
<path d="M199,329.9 V333.9 M198,331.3 H200 M198,332.8 H200" fill="none" stroke="#666" stroke-width="0.6"/>
<path d="M217.8,341.6 V345.6 M216.8,343 H218.8 M216.8,344.5 H218.8" fill="none" stroke="#666" stroke-width="0.6"/>
<path d="M215,346.6 V350.6 M214,348 H216 M214,349.5 H216" fill="none" stroke="#666" stroke-width="0.6"/>
<path d="M225.4,363.3 V367.3 M224.4,364.7 H226.4 M224.4,366.2 H226.4" fill="none" stroke="#666" stroke-width="0.6"/>
<path d="M132.7,379.8 V383.8 M131.7,381.2 H133.7 M131.7,382.7 H133.7" fill="none" stroke="#666" stroke-width="0.6"/>
<text x="264.2" y="291.8" font-size="11.5" font-weight="bold">C</text>
<rect x="283.5" y="301.4" width="151.2" height="106.3" fill="none" stroke="#b0b0b0" stroke-width="0.9"/>
<line x1="283.5" y1="399.6" x2="434.7" y2="315.6" stroke="#a2a2a2" stroke-width="0.8"/>
<text transform="translate(280.1,300.6) rotate(-90)" font-size="4.8" font-weight="bold" text-anchor="middle" fill="#111">9.0</text>
<text transform="translate(280.1,325.9) rotate(-90)" font-size="4.8" font-weight="bold" text-anchor="middle" fill="#111">8.8</text>
<text transform="translate(280.1,352.2) rotate(-90)" font-size="4.8" font-weight="bold" text-anchor="middle" fill="#111">8.6</text>
<text transform="translate(280.1,377.6) rotate(-90)" font-size="4.8" font-weight="bold" text-anchor="middle" fill="#111">8.4</text>
<text transform="translate(280.1,404) rotate(-90)" font-size="4.8" font-weight="bold" text-anchor="middle" fill="#111">8.2</text>
<text x="285.4" y="415" font-size="4.8" font-weight="bold" text-anchor="middle" fill="#111">9.0</text>
<text x="325.8" y="415" font-size="4.8" font-weight="bold" text-anchor="middle" fill="#111">9.4</text>
<text x="365.8" y="415" font-size="4.8" font-weight="bold" text-anchor="middle" fill="#111">9.8</text>
<text x="403.6" y="415" font-size="4.8" font-weight="bold" text-anchor="middle" fill="#111">10.2</text>
<text x="286.6" y="313.7" font-size="7.1" fill="#111">Pearson’s r = 0.7865</text>
<text transform="translate(271.7,401) rotate(-90)" font-size="7.0" textLength="96.6" lengthAdjust="spacingAndGlyphs" fill="#111"><tspan font-style="italic">Gmnn</tspan> expression levels (log 2)</text>
<text x="314" y="423.6" font-size="7.0" textLength="94.9" lengthAdjust="spacingAndGlyphs" fill="#111"><tspan font-style="italic">Ezh2</tspan> expression levels (log 2)</text>
<path d="M366.6,319.5 L368.2,315.6 L369.8,319.5 Z M367.2,318.1 H369.2" fill="none" stroke="#666" stroke-width="0.6"/>
<path d="M375,331.5 L376.6,327.6 L378.2,331.5 Z M375.6,330.1 H377.6" fill="none" stroke="#666" stroke-width="0.6"/>
<path d="M391.5,331.8 L393.1,327.9 L394.7,331.8 Z M392.1,330.4 H394.1" fill="none" stroke="#666" stroke-width="0.6"/>
<path d="M375.3,337.7 L376.9,333.8 L378.5,337.7 Z M375.9,336.3 H377.9" fill="none" stroke="#666" stroke-width="0.6"/>
<path d="M376.9,339.5 L378.5,335.6 L380.1,339.5 Z M377.5,338.1 H379.5" fill="none" stroke="#666" stroke-width="0.6"/>
<path d="M381.8,336.9 L383.4,333 L385,336.9 Z M382.4,335.5 H384.4" fill="none" stroke="#666" stroke-width="0.6"/>
<path d="M385.3,340 L386.9,336.1 L388.5,340 Z M385.9,338.6 H387.9" fill="none" stroke="#666" stroke-width="0.6"/>
<path d="M398.1,339.2 L399.7,335.3 L401.3,339.2 Z M398.7,337.8 H400.7" fill="none" stroke="#666" stroke-width="0.6"/>
<path d="M403.8,343.1 L405.4,339.2 L407,343.1 Z M404.4,341.7 H406.4" fill="none" stroke="#666" stroke-width="0.6"/>
<path d="M379.2,349.7 L380.8,345.8 L382.4,349.7 Z M379.8,348.3 H381.8" fill="none" stroke="#666" stroke-width="0.6"/>
<path d="M381.8,354.6 L383.4,350.7 L385,354.6 Z M382.4,353.2 H384.4" fill="none" stroke="#666" stroke-width="0.6"/>
<path d="M385.8,353.1 L387.4,349.2 L389,353.1 Z M386.4,351.7 H388.4" fill="none" stroke="#666" stroke-width="0.6"/>
<path d="M397.6,354.9 L399.2,351 L400.8,354.9 Z M398.2,353.5 H400.2" fill="none" stroke="#666" stroke-width="0.6"/>
<path d="M378.7,361.1 L380.3,357.2 L381.9,361.1 Z M379.3,359.7 H381.3" fill="none" stroke="#666" stroke-width="0.6"/>
<path d="M358.1,359.9 L359.7,356 L361.3,359.9 Z M358.7,358.5 H360.7" fill="none" stroke="#666" stroke-width="0.6"/>
<path d="M340.3,360.7 L341.9,356.8 L343.5,360.7 Z M340.9,359.3 H342.9" fill="none" stroke="#666" stroke-width="0.6"/>
<path d="M356.8,365 L358.4,361.1 L360,365 Z M357.4,363.6 H359.4" fill="none" stroke="#666" stroke-width="0.6"/>
<path d="M349.9,369.3 L351.5,365.4 L353.1,369.3 Z M350.5,367.9 H352.5" fill="none" stroke="#666" stroke-width="0.6"/>
<path d="M356.5,373.4 L358.1,369.5 L359.7,373.4 Z M357.1,372 H359.1" fill="none" stroke="#666" stroke-width="0.6"/>
<path d="M334.5,380.4 L336.1,376.5 L337.7,380.4 Z M335.1,379 H337.1" fill="none" stroke="#666" stroke-width="0.6"/>
<path d="M339.1,387.7 L340.7,383.8 L342.3,387.7 Z M339.7,386.3 H341.7" fill="none" stroke="#666" stroke-width="0.6"/>
<path d="M296,399.1 L297.6,395.2 L299.2,399.1 Z M296.6,397.7 H298.6" fill="none" stroke="#666" stroke-width="0.6"/>
<path d="M364.6,373.1 L366.2,369.2 L367.8,373.1 Z M365.2,371.7 H367.2" fill="none" stroke="#666" stroke-width="0.6"/>
<path d="M398.5,326.4 V330.4 M397.5,327.8 H399.5 M397.5,329.3 H399.5" fill="none" stroke="#666" stroke-width="0.6"/>
<path d="M379.7,338.7 V342.7 M378.7,340.1 H380.7 M378.7,341.6 H380.7" fill="none" stroke="#666" stroke-width="0.6"/>
<path d="M395.1,338.7 V342.7 M394.1,340.1 H396.1 M394.1,341.6 H396.1" fill="none" stroke="#666" stroke-width="0.6"/>
<path d="M406.2,345.3 V349.3 M405.2,346.7 H407.2 M405.2,348.2 H407.2" fill="none" stroke="#666" stroke-width="0.6"/>
<path d="M417.7,335.3 V339.3 M416.7,336.7 H418.7 M416.7,338.2 H418.7" fill="none" stroke="#666" stroke-width="0.6"/>
<path d="M356.1,365.7 V369.7 M355.1,367.1 H357.1 M355.1,368.6 H357.1" fill="none" stroke="#666" stroke-width="0.6"/>
<path d="M312.2,382.6 V386.6 M311.2,384 H313.2 M311.2,385.5 H313.2" fill="none" stroke="#666" stroke-width="0.6"/>
</svg>
</body></html>
